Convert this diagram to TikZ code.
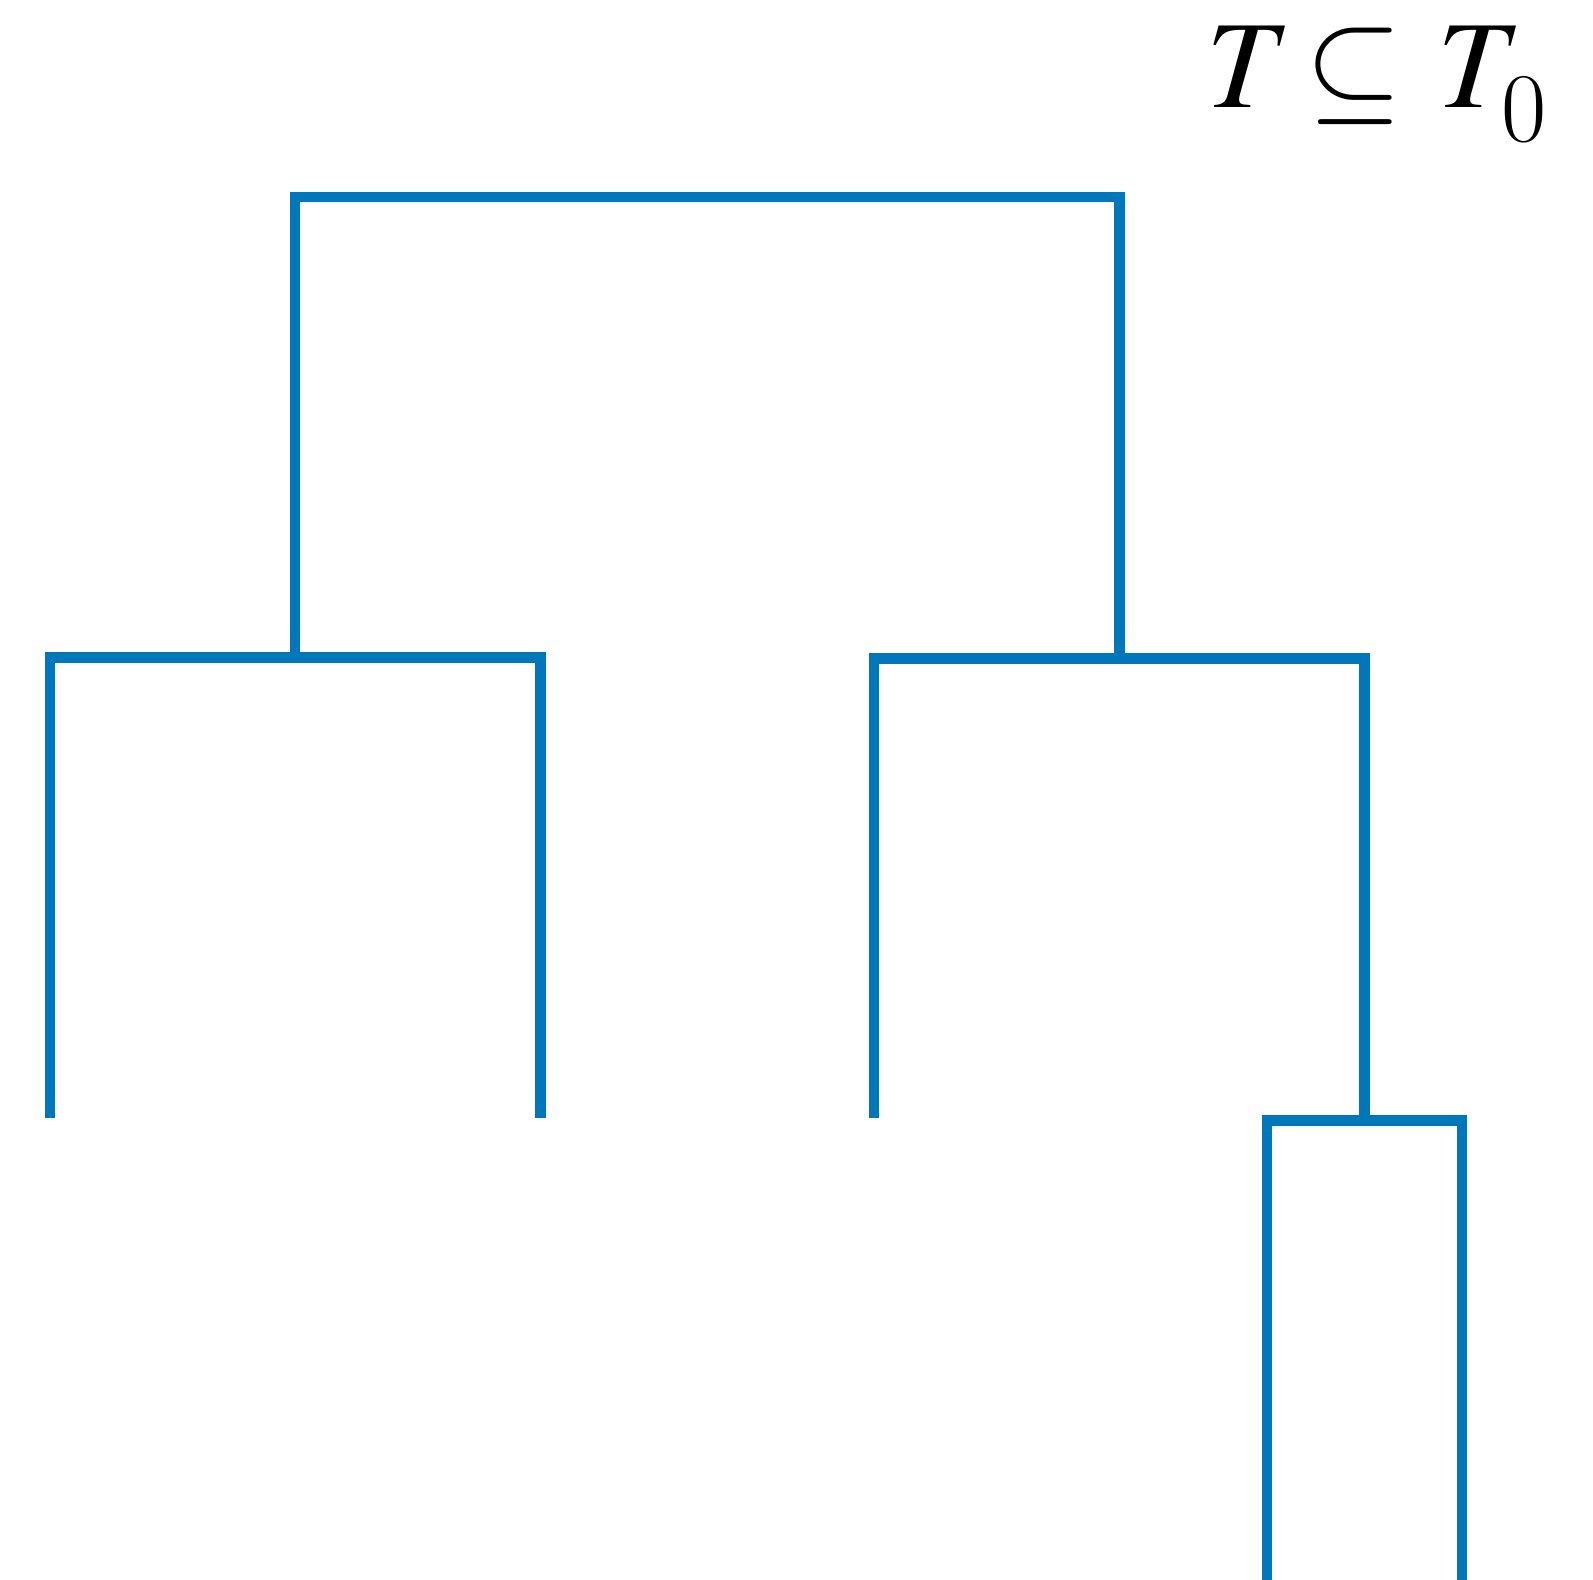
\documentclass[tikz,border=0pt]{standalone}
\usepackage{mathptmx}
\definecolor{treeblue}{HTML}{0077BB}

\begin{document}
\begin{tikzpicture}[
		x=0.01cm, y=-0.01cm,
		branch/.style={draw=treeblue, line width=3.1pt, line join=miter},
		treelabel/.style={anchor=base west, inner sep=0pt, font=\fontsize{35.5}{40}\selectfont}
		]
		\useasboundingbox (0,0) rectangle (1593,1580);
		
		% junctions
		\coordinate (top) at (707,197);
		\coordinate (lnode) at (295,657.5);
		\coordinate (rnode) at (1119.5,658.5);
		\coordinate (bnode) at (1364.5,1120.7);
		
		% leaves
		\coordinate (la) at (50,1118);
		\coordinate (lb) at (540.5,1118);
		\coordinate (rc) at (874,1118);
		\coordinate (bd) at (1267,1580);
		\coordinate (be) at (1462,1580);
		
		% branches
		\draw[branch] (lnode) |- (top) -| (rnode);
		\draw[branch] (la) |- (lnode) -| (lb);
		\draw[branch] (rc) |- (rnode) -| (bnode);
		\draw[branch] (bd) |- (bnode) -| (be);
		
		% title
		\node[treelabel] (title) at (1206,108)
			{$T\mkern-2mu\subseteq\mkern1mu T\mkern-3mu\raisebox{-9.4pt}{\fontsize{28}{30}\selectfont 0}$};
		
	\end{tikzpicture}
\end{document}
